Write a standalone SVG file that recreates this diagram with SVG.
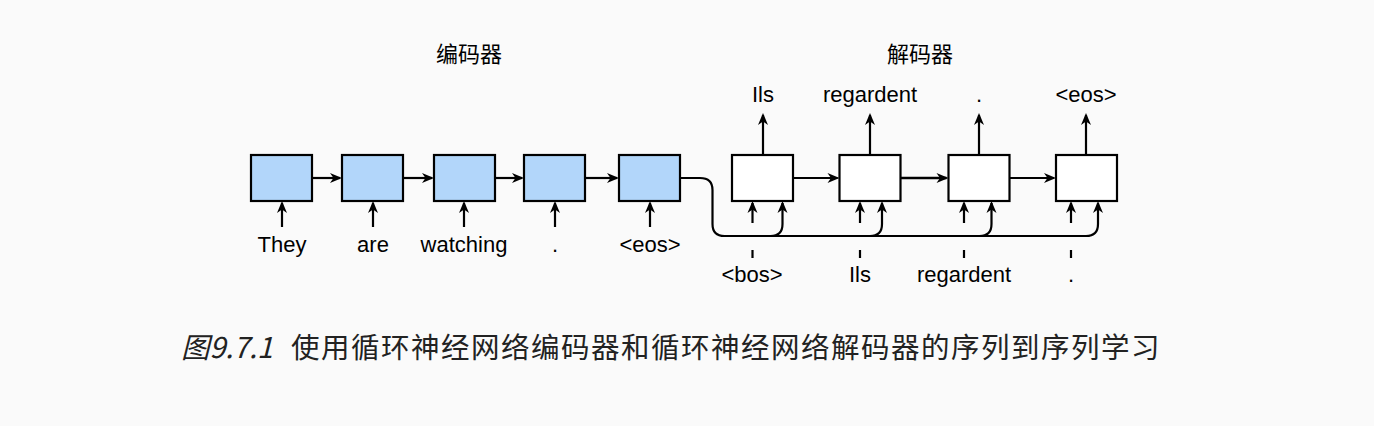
<svg xmlns="http://www.w3.org/2000/svg" width="1374" height="426" viewBox="0 0 1374 426">
<style>
.bg{fill:#fafafa}
.enc{fill:#b2d6fa;stroke:#000;stroke-width:2.2}
.dec{fill:#ffffff;stroke:#000;stroke-width:2.2}
.ln{fill:none;stroke:#000;stroke-width:2.2}
.lbl{font-family:"Liberation Sans",Arial,sans-serif;font-size:22px;fill:#000;text-anchor:middle}
.ttl{font-family:"Noto Sans CJK SC",sans-serif;font-size:22px;fill:#000;text-anchor:middle}
.cap{font-family:"Noto Sans CJK SC",sans-serif;font-size:28.5px;fill:#222}
</style>
<defs>
<marker id="ah" markerUnits="userSpaceOnUse" markerWidth="16" markerHeight="16" viewBox="-13 -8 16 16" refX="0" refY="0" orient="auto">
<path d="M2,0 L-10,-5 L-6.5,0 L-10,5 Z" fill="#000"/>
</marker>
</defs>
<rect class="bg" x="0" y="0" width="1374" height="426"/>

<text class="ttl" x="469" y="62">编码器</text>
<text class="ttl" x="920" y="62">解码器</text>

<g id="enc1"><rect class="enc" x="251" y="155" width="61" height="46"/><text class="lbl" x="282" y="252">They</text></g>
<g id="enc2"><rect class="enc" x="342" y="155" width="61" height="46"/><text class="lbl" x="373" y="252">are</text></g>
<g id="enc3"><rect class="enc" x="434" y="155" width="61" height="46"/><text class="lbl" x="464" y="252">watching</text></g>
<g id="enc4"><rect class="enc" x="524" y="155" width="61" height="46"/><text class="lbl" x="555" y="252">.</text></g>
<g id="enc5"><rect class="enc" x="619" y="155" width="61" height="46"/><text class="lbl" x="650" y="252">&lt;eos&gt;</text></g>

<g id="dec1"><rect class="dec" x="732" y="155" width="61" height="46"/><text class="lbl" x="763" y="102">Ils</text><text class="lbl" x="752" y="282">&lt;bos&gt;</text></g>
<g id="dec2"><rect class="dec" x="839.5" y="155" width="61" height="46"/><text class="lbl" x="870" y="102">regardent</text><text class="lbl" x="860" y="282">Ils</text></g>
<g id="dec3"><rect class="dec" x="948.5" y="155" width="61" height="46"/><text class="lbl" x="979" y="102">.</text><text class="lbl" x="964" y="282">regardent</text></g>
<g id="dec4"><rect class="dec" x="1056" y="155" width="61" height="46"/><text class="lbl" x="1086" y="102">&lt;eos&gt;</text><text class="lbl" x="1071" y="282">.</text></g>

<g id="connectors">
<path class="ln" marker-end="url(#ah)" d="M312,178 H340"/>
<path class="ln" marker-end="url(#ah)" d="M403,178 H432"/>
<path class="ln" marker-end="url(#ah)" d="M495,178 H522"/>
<path class="ln" marker-end="url(#ah)" d="M585,178 H617"/>
<path class="ln" marker-end="url(#ah)" d="M282,227 V203"/>
<path class="ln" marker-end="url(#ah)" d="M373,227 V203"/>
<path class="ln" marker-end="url(#ah)" d="M464,227 V203"/>
<path class="ln" marker-end="url(#ah)" d="M555,227 V203"/>
<path class="ln" marker-end="url(#ah)" d="M650,227 V203"/>
<path class="ln" marker-end="url(#ah)" d="M793,178 H837.5"/>
<path class="ln" marker-end="url(#ah)" d="M900.5,178 H946.5" style="stroke-width:2.6"/>
<path class="ln" marker-end="url(#ah)" d="M1009.5,178 H1054"/>
<path class="ln" marker-end="url(#ah)" d="M763,155 V115"/>
<path class="ln" marker-end="url(#ah)" d="M870,155 V115"/>
<path class="ln" marker-end="url(#ah)" d="M979,155 V115"/>
<path class="ln" marker-end="url(#ah)" d="M1086,155 V115"/>
<path class="ln" marker-end="url(#ah)" d="M752.5,223 V203"/>
<path class="ln" marker-end="url(#ah)" d="M860,223 V203"/>
<path class="ln" marker-end="url(#ah)" d="M964,223 V203"/>
<path class="ln" marker-end="url(#ah)" d="M1071,223 V203"/>
<path class="ln" marker-end="url(#ah)" d="M680,178 H700 Q712.5,178 712.5,190 V224 Q712.5,236 724.5,236 H1086 Q1098,236 1098,224 V203"/>
<path class="ln" marker-end="url(#ah)" d="M770.5,236 Q782.5,236 782.5,224 V203"/>
<path class="ln" marker-end="url(#ah)" d="M870,236 Q882,236 882,224 V203"/>
<path class="ln" marker-end="url(#ah)" d="M979.5,236 Q991.5,236 991.5,224 V203"/>
<path class="ln" d="M752.5,250 V258 M860,250 V258 M964,250 V258 M1071,250 V258"/>
</g>

<text class="cap" x="181" y="358"><tspan font-style="italic">图9.7.1</tspan></text>
<text class="cap" x="291" y="358" letter-spacing="1.5">使用循环神经网络编码器和循环神经网络解码器的序列到序列学习</text>
</svg>
